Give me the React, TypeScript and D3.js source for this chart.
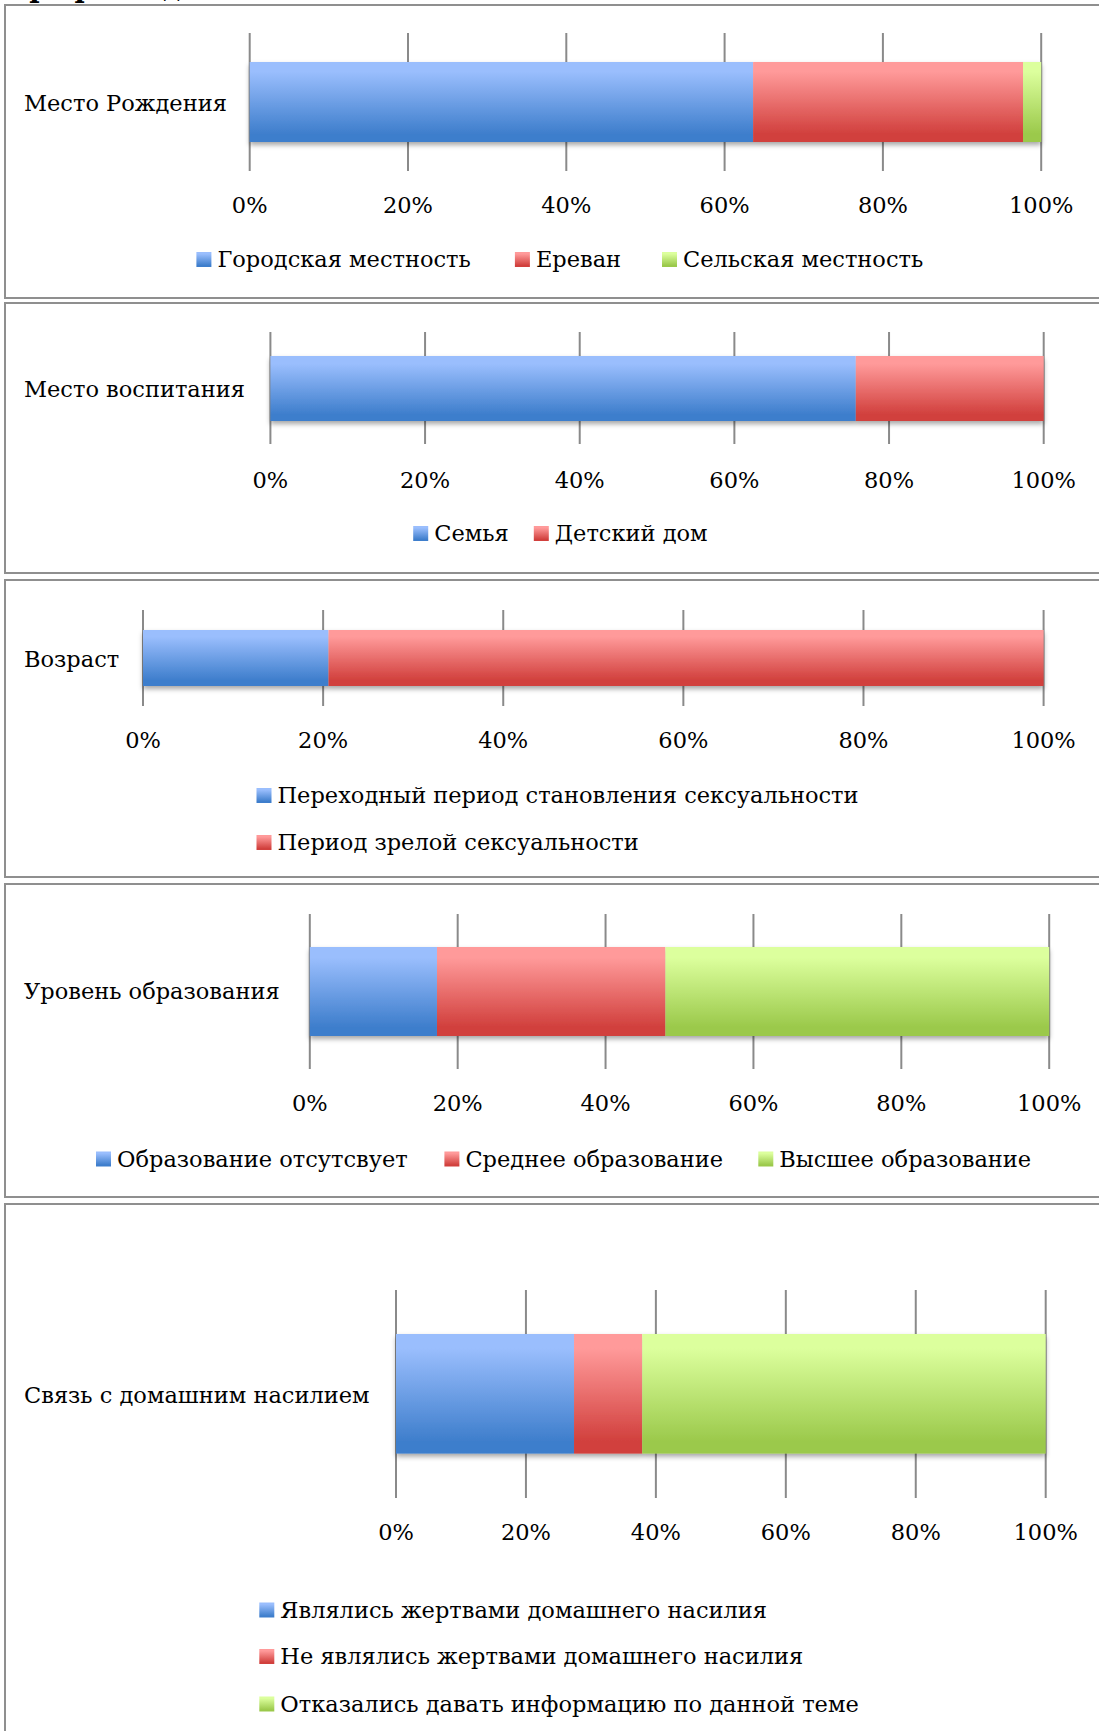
import React, { useEffect, useRef } from 'react';
import * as d3 from 'd3';

const categories = ['Место Рождения', 'Место воспитания', 'Возраст', 'Уровень образования', 'Связь с домашним насилием'];

const birthSeries = ['Городская местность', 'Ереван', 'Сельская местность'];
const birthValues = [63.6, 34.1, 2.3];

const upbringingSeries = ['Семья', 'Детский дом'];
const upbringingValues = [75.7, 24.3];

const ageSeries = ['Переходный период становления сексуальности', 'Период зрелой сексуальности'];
const ageValues = [20.6, 79.4];

const educationSeries = ['Образование отсутсвует', 'Среднее образование', 'Высшее образование'];
const educationValues = [17.2, 30.9, 51.9];

const violenceSeries = [
  'Являлись жертвами домашнего насилия',
  'Не являлись жертвами домашнего насилия',
  'Отказались давать информацию по данной теме',
];
const violenceValues = [27.4, 10.5, 62.1];

const tickValues = [0, 20, 40, 60, 80, 100];
const tickLabels = ['0%', '20%', '40%', '60%', '80%', '100%'];

const FONT = '"DejaVu Serif", serif';
const FONT_SIZE = 22.5;

// top / bottom colours of each series gradient
const palette = [
  { id: 'gBlue', top: '#9abefd', bottom: '#3e7ecc' },
  { id: 'gRed', top: '#ff9a9a', bottom: '#d1403d' },
  { id: 'gGreen', top: '#dcff9d', bottom: '#9bc94b' },
];

const App: React.FC = () => {
  const svgRef = useRef<SVGSVGElement>(null);

  useEffect(() => {
    if (!svgRef.current) return;
    const width = 1099;
    const height = 1731;

    const svg = d3.select(svgRef.current)
      .attr('width', width)
      .attr('height', height)
      .html('');

    const defs = svg.append('defs');
    palette.forEach(p => {
      const g = defs.append('linearGradient')
        .attr('id', p.id)
        .attr('x1', 0).attr('y1', 0).attr('x2', 0).attr('y2', 1);
      g.append('stop').attr('offset', '0').attr('stop-color', p.top);
      g.append('stop').attr('offset', '0.12').attr('stop-color', p.top);
      g.append('stop').attr('offset', '0.9').attr('stop-color', p.bottom);
      g.append('stop').attr('offset', '1').attr('stop-color', p.bottom);
    });
    const shadow = defs.append('filter').attr('id', 'barShadow')
      .attr('x', '-5%').attr('y', '-20%').attr('width', '110%').attr('height', '150%');
    shadow.append('feDropShadow')
      .attr('dx', 0).attr('dy', 3).attr('stdDeviation', 2.5)
      .attr('flood-color', '#000').attr('flood-opacity', 0.35);

    svg.append('rect').attr('width', width).attr('height', height).attr('fill', '#fff');

    // heading of the page, cut off by the top edge in the source
    const title = svg.append('text')
      .attr('x', 10).attr('y', -3)
      .style('font-family', FONT).style('font-size', '28px');
    title.append('tspan').style('font-weight', 'bold').text('Графики');
    title.append('tspan').text(' данных');

    const panels = [
      { series: birthSeries, values: birthValues, top: 5, bottom: 298, x0: 249.7, x1: 1041.2, gridTop: 33, gridBottom: 171, barTop: 62, barBottom: 142, labelY: 111, tickY: 213, legend: { mode: 'row', y: 267, xs: [196.4, 514.9, 662] } },
      { series: upbringingSeries, values: upbringingValues, top: 303, bottom: 573, x0: 270.4, x1: 1043.7, gridTop: 332, gridBottom: 444, barTop: 356, barBottom: 421, labelY: 397, tickY: 488, legend: { mode: 'row', y: 541, xs: [413.2, 533.8] } },
      { series: ageSeries, values: ageValues, top: 580, bottom: 877, x0: 143, x1: 1043.6, gridTop: 610, gridBottom: 706, barTop: 630, barBottom: 686, labelY: 667, tickY: 748, legend: { mode: 'col', x: 256.5, ys: [803, 850] } },
      { series: educationSeries, values: educationValues, top: 884, bottom: 1197, x0: 309.8, x1: 1049.2, gridTop: 914, gridBottom: 1069, barTop: 947, barBottom: 1036, labelY: 999, tickY: 1111, legend: { mode: 'row', y: 1166.5, xs: [96, 444.4, 758.3] } },
      { series: violenceSeries, values: violenceValues, top: 1204, bottom: 1745, x0: 396, x1: 1045.7, gridTop: 1290, gridBottom: 1498, barTop: 1334, barBottom: 1453.6, labelY: 1402.5, tickY: 1540, legend: { mode: 'col', x: 259.3, ys: [1617.5, 1664, 1711.5] } },
    ];

    panels.forEach((p, pi) => {
      const g = svg.append('g');

      g.append('rect')
        .attr('x', 5).attr('y', p.top)
        .attr('width', 1110).attr('height', p.bottom - p.top)
        .attr('fill', 'none')
        .attr('stroke', '#8f8f8f')
        .attr('stroke-width', 2);

      const x = d3.scaleLinear().domain([0, 100]).range([p.x0, p.x1]);

      // vertical grid lines
      g.selectAll('.grid')
        .data(tickValues)
        .enter().append('line')
        .attr('x1', d => x(d)).attr('x2', d => x(d))
        .attr('y1', p.gridTop).attr('y2', p.gridBottom)
        .attr('stroke', '#8a8a8a')
        .attr('stroke-width', 2);

      // stacked bar
      const row: Record<string, number> = {};
      p.series.forEach((s, i) => { row[s] = p.values[i]; });
      const stacked = d3.stack<Record<string, number>>().keys(p.series)([row]);

      g.append('g')
        .attr('filter', 'url(#barShadow)')
        .selectAll('rect')
        .data(stacked)
        .enter().append('rect')
        .attr('x', d => x(d[0][0]))
        .attr('width', d => x(d[0][1]) - x(d[0][0]))
        .attr('y', p.barTop)
        .attr('height', p.barBottom - p.barTop)
        .attr('fill', (d, i) => `url(#${palette[i].id})`);

      g.selectAll('.tick')
        .data(tickValues)
        .enter().append('text')
        .attr('x', d => x(d))
        .attr('y', p.tickY)
        .attr('text-anchor', 'middle')
        .style('font-family', FONT)
        .style('font-size', `${FONT_SIZE}px`)
        .attr('fill', '#000')
        .text((d, i) => tickLabels[i]);

      g.append('text')
        .attr('x', 24)
        .attr('y', p.labelY)
        .style('font-family', FONT)
        .style('font-size', `${FONT_SIZE}px`)
        .text(categories[pi]);

      // legend
      p.series.forEach((s, i) => {
        const lx = p.legend.mode === 'row' ? p.legend.xs![i] : p.legend.x!;
        const ly = p.legend.mode === 'row' ? p.legend.y! : p.legend.ys![i];
        g.append('rect')
          .attr('x', lx).attr('y', ly - 15)
          .attr('width', 15).attr('height', 15)
          .attr('fill', `url(#${palette[i].id})`);
        g.append('text')
          .attr('x', lx + 21)
          .attr('y', ly)
          .style('font-family', FONT)
          .style('font-size', `${FONT_SIZE}px`)
          .text(s);
      });
    });
  }, []);

  return (
    <div style={{ position: 'absolute', left: 0, top: 0 }}>
      <svg ref={svgRef}></svg>
    </div>
  );
};

export default App;
